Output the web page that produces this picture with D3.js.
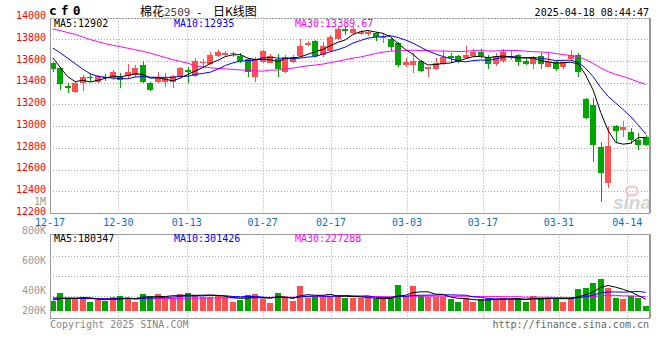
<!DOCTYPE html>
<html><head><meta charset="utf-8">
<script src="https://cdn.jsdelivr.net/npm/d3@7"></script>
<style>
body{margin:0;background:#fff}
svg{display:block}
text{font-family:"DejaVu Sans Mono",monospace;font-size:10px}
</style>
</head><body>
<svg id="c" width="660" height="360"></svg>
<script>
// ---------- DATA ----------
const dates = ["12-17","12-18","12-19","12-20","12-23","12-24","12-25","12-26","12-27","12-30","12-31",
"01-02","01-03","01-06","01-07","01-08","01-09","01-10","01-13","01-14","01-15","01-16","01-17","01-20","01-21","01-22","01-23","01-24","01-27",
"02-05","02-06","02-07","02-10","02-11","02-12","02-13","02-14","02-17","02-18","02-19","02-20","02-21","02-24","02-25","02-26","02-27","02-28",
"03-03","03-04","03-05","03-06","03-07","03-10","03-11","03-12","03-13","03-14","03-17","03-18","03-19","03-20","03-21","03-24","03-25","03-26","03-27","03-28","03-31",
"04-01","04-02","04-03","04-07","04-08","04-09","04-10","04-11","04-14","04-15","04-16","04-17"];

const openP = [13578,13539,13373,13317,13394,13450,13410,13455,13440,13450,13462,13471,13563,13394,13410,13410,13410,13450,13517,13462,
13579,13569,13646,13655,13661,13646,13615,13450,13594,13585,13615,13502,13594,13646,13748,13784,13655,13695,13800,13895,
13861,13849,13846,13861,13809,13800,13769,13563,13563,13603,13523,13526,13572,13646,13646,13625,13646,13686,13640,13569,
13600,13625,13655,13603,13572,13646,13542,13594,13542,13615,13655,13250,13194,12811,12480,13001,12960,12945,12869,12895];
const highP = [13594,13548,13394,13416,13471,13486,13471,13477,13517,13486,13569,13563,13600,13410,13502,13486,13470,13548,13548,13625,
13615,13686,13701,13695,13686,13671,13625,13634,13701,13662,13665,13655,13655,13800,13787,13794,13778,13840,13910,13916,
13910,13886,13877,13870,13849,13809,13778,13625,13671,13609,13548,13625,13701,13671,13655,13738,13708,13708,13655,13671,
13708,13701,13662,13640,13646,13671,13671,13603,13603,13701,13671,13258,13262,12850,13002,13013,13048,12983,12933,12915];
const lowP = [13502,13333,13308,13308,13327,13410,13394,13416,13425,13348,13440,13456,13394,13324,13394,13364,13348,13440,13394,13456,
13548,13563,13634,13640,13640,13585,13450,13410,13578,13578,13450,13493,13585,13634,13738,13634,13634,13686,13794,13840,
13849,13840,13830,13787,13763,13695,13542,13542,13493,13502,13450,13517,13563,13579,13585,13615,13640,13625,13526,13557,
13579,13609,13554,13563,13523,13523,13542,13511,13523,13603,13456,13066,12672,12304,12433,12857,12903,12838,12777,12820];
const closeP = [13523,13385,13348,13400,13456,13444,13462,13440,13502,13425,13502,13539,13410,13333,13440,13440,13462,13539,13502,13600,
13594,13655,13680,13677,13677,13603,13496,13615,13692,13646,13526,13640,13640,13738,13769,13646,13738,13818,13892,13880,
13895,13870,13867,13824,13818,13732,13563,13594,13600,13511,13548,13585,13640,13625,13600,13655,13680,13649,13569,13646,
13686,13646,13594,13572,13634,13572,13594,13526,13594,13655,13502,13075,12826,12571,12817,12958,12995,12872,12826,12830];
const volume = [156000,281000,182000,182000,218000,140000,167000,151000,218000,234000,203000,140000,265000,234000,265000,203000,203000,265000,281000,245000,
218000,218000,234000,207000,140000,167000,245000,265000,182000,125000,281000,218000,156000,390000,203000,234000,218000,234000,245000,203000,
203000,192000,192000,176000,176000,218000,401000,234000,385000,234000,218000,218000,218000,176000,140000,192000,140000,182000,182000,182000,
203000,182000,192000,140000,229000,192000,207000,192000,140000,218000,335000,350000,425000,500000,355000,203000,182000,234000,203000,73000];

// moving-average values before enough candles are shown
const ma5Head = [13630,13540,13455,13410];
const ma10Head = [13720,13675,13625,13575,13525,13482,13460,13450,13442];
const ma30Head = [13895,13880,13862,13845,13822,13798,13778,13760,13745,13732,13718,13703,13690,13672,13652,13632,13612,13596,13580,13556,
13545,13538,13532,13527,13522,13518,13514,13510,13506];
const vma5Head = [167000,190000,192000,192000];
const vma10Head = [195000,195000,193000,192000,190000,188000,186000,185000,185000];
const vma30Head = [200000,200000,199000,198000,197000,195000,192000,190000,188000,186000,185000,185000,186000,187000,188000,190000,191000,193000,194000,196000,
197000,198000,199000,200000,201000,202000,203000,204000,205000];

const priceTicks = [14000,13800,13600,13400,13200,13000,12800,12600,12400,12200];
const volTicks = [1000000,800000,600000,400000,200000];
const volTickLabels = ["1M","800K","600K","400K","200K"];
const dateTicks = ["12-17","12-30","01-13","01-27","02-17","03-03","03-17","03-31","04-14"];
const legendMain = ["MA5:12902","MA10:12935","MA30:13389.67"];
const legendVol = ["MA5:180347","MA10:301426","MA30:227288"];
const maColors = ["#000000","#0000ff","#ff00ff"];

// ---------- LAYOUT ----------
const L = 50, R = 650;
const pTop = 17.6, pBot = 212.9;
const vTop = 234.3, vBot = 318, vBase = 310.7;
const UP = "#ff5050", DOWN = "#00a600", GRID = "#aaaaaa", BORDER = "#999999";

const svg = d3.select("#c");
const y = d3.scaleLinear().domain([12200,14000]).range([pBot,pTop]);
const yv = d3.scaleLinear().domain([0,1200000]).range([vBase,vBase-76.9]);
const yvLabel = d3.scaleLinear().domain([400000,1000000]).range([290.7,201]);
const xb = d3.scaleBand().domain(dates).range([49,649.5]).paddingInner(0.2).paddingOuter(0.1);
const xc = d => xb(d) + xb.bandwidth()/2;
const xg = d3.scalePoint().domain(dates).range([L,R]);

function calcMA(vals,n,head){return vals.map((v,i)=> i<n-1 ? head[i] : d3.mean(vals.slice(i-n+1,i+1)));}

// ---------- GRID ----------
const g = svg.append("g");
// horizontal price grid
g.selectAll(".hg").data(priceTicks.filter(t=>t<14000 && t>12200)).join("line")
  .attr("x1",L).attr("x2",R).attr("y1",d=>Math.round(y(d))+0.5).attr("y2",d=>Math.round(y(d))+0.5)
  .attr("stroke",GRID).attr("stroke-dasharray","1,2");
// vertical grids
g.selectAll(".vg").data(dateTicks.slice(1)).join("line")
  .attr("x1",d=>Math.round(xg(d))+0.5).attr("x2",d=>Math.round(xg(d))+0.5)
  .attr("y1",pTop).attr("y2",pBot).attr("stroke",GRID).attr("stroke-dasharray","1,2");
g.selectAll(".vg2").data(dateTicks.slice(1)).join("line")
  .attr("x1",d=>Math.round(xg(d))+0.5).attr("x2",d=>Math.round(xg(d))+0.5)
  .attr("y1",vTop).attr("y2",vBot+3).attr("stroke",GRID).attr("stroke-dasharray","1,2");
// volume horizontal grid
const volGridVals = [yv.invert(255.5), yv.invert(275.5), yv.invert(295.5)];
g.selectAll(".vhg").data(volGridVals).join("line")
  .attr("x1",L).attr("x2",R).attr("y1",d=>Math.round(yv(d))+0.5).attr("y2",d=>Math.round(yv(d))+0.5)
  .attr("stroke",GRID).attr("stroke-dasharray","1,2");

// top border of price panel (dotted)
g.append("line").attr("x1",L).attr("x2",R).attr("y1",Math.round(pTop)+0.5).attr("y2",Math.round(pTop)+0.5)
  .attr("stroke",BORDER).attr("stroke-dasharray","2,1");

// ---------- SINA WATERMARK ----------
svg.append("ellipse").attr("cx",632).attr("cy",191).attr("rx",6).attr("ry",4.5)
  .attr("fill","none").attr("stroke","#f3c4c4").attr("stroke-width",2);
svg.append("text").attr("x",651).attr("y",209).attr("text-anchor","end")
  .style("font-family","Liberation Sans, Arial").style("font-size","19px").style("font-style","italic").style("font-weight","bold")
  .attr("fill","#d4d4d4").text("sina");

// ---------- CANDLES ----------
const idx = d3.range(dates.length);
const cg = svg.append("g").attr("shape-rendering","crispEdges");
cg.selectAll(".wick").data(idx).join("line")
  .attr("x1",i=>Math.round(xc(dates[i]))+0.5).attr("x2",i=>Math.round(xc(dates[i]))+0.5)
  .attr("y1",i=>y(highP[i])).attr("y2",i=>y(lowP[i]))
  .attr("stroke",i=>closeP[i]>=openP[i]?UP:DOWN);
cg.selectAll(".body").data(idx).join("rect")
  .attr("x",i=>Math.round(xb(dates[i])))
  .attr("width",Math.round(xb.bandwidth()))
  .attr("y",i=>y(Math.max(openP[i],closeP[i])))
  .attr("height",i=>Math.max(1,Math.abs(y(openP[i])-y(closeP[i]))))
  .attr("fill",i=>closeP[i]>=openP[i]?UP:DOWN);

// ---------- PRICE MA LINES ----------
const mas = [calcMA(closeP,5,ma5Head),calcMA(closeP,10,ma10Head),calcMA(closeP,30,ma30Head)];
const line = d3.line().x((d,i)=>xc(dates[i])).y(d=>y(d));
svg.append("defs").append("clipPath").attr("id","pc").append("rect").attr("x",L).attr("y",pTop).attr("width",R-L).attr("height",pBot-pTop);
const mg = svg.append("g").attr("clip-path","url(#pc)");
[2,1,0].forEach(k=>{
  mg.append("path").datum(mas[k]).attr("d",line).attr("fill","none").attr("stroke",maColors[k]).attr("stroke-width",1);
});

// ---------- VOLUME ----------
const vg = svg.append("g").attr("shape-rendering","crispEdges");
vg.selectAll("rect").data(idx).join("rect")
  .attr("x",i=>Math.round(xb(dates[i])))
  .attr("width",Math.round(xb.bandwidth()))
  .attr("y",i=>yv(volume[i]))
  .attr("height",i=>yv(0)-yv(volume[i]))
  .attr("fill",i=>closeP[i]>=openP[i]?UP:DOWN);
const vmas = [calcMA(volume,5,vma5Head),calcMA(volume,10,vma10Head),calcMA(volume,30,vma30Head)];
const vline = d3.line().x((d,i)=>xc(dates[i])).y(d=>yv(d));
[2,1,0].forEach(k=>{
  svg.append("path").datum(vmas[k]).attr("d",vline).attr("fill","none").attr("stroke",maColors[k]).attr("stroke-width",1);
});

// ---------- BORDERS ----------
const bg = svg.append("g").attr("stroke",BORDER).attr("shape-rendering","crispEdges");
bg.append("line").attr("x1",L+0.5).attr("x2",L+0.5).attr("y1",pTop).attr("y2",pBot);
bg.append("line").attr("x1",L).attr("x2",R).attr("y1",Math.round(pBot)+0.5).attr("y2",Math.round(pBot)+0.5);
bg.append("line").attr("x1",R).attr("x2",R).attr("y1",pTop).attr("y2",pBot).attr("stroke-width",2);
bg.append("line").attr("x1",L).attr("x2",R).attr("y1",Math.round(vTop)+0.5).attr("y2",Math.round(vTop)+0.5);
bg.append("line").attr("x1",L+0.5).attr("x2",L+0.5).attr("y1",vTop).attr("y2",vBot);
bg.append("line").attr("x1",L).attr("x2",R).attr("y1",vBot+0.5).attr("y2",vBot+0.5);
bg.append("line").attr("x1",R).attr("x2",R).attr("y1",vTop).attr("y2",vBot).attr("stroke-width",2);

// ---------- AXIS LABELS ----------
svg.selectAll(".pl").data(priceTicks).join("text")
  .attr("x",46).attr("y",d=>y(d)-1.8).attr("dy","0.35em").attr("text-anchor","end")
  .attr("fill","#ff0000").text(d=>d);
svg.selectAll(".vl").data(volTicks).join("text")
  .attr("x",46).attr("y",d=>Math.min(yvLabel(d),vBase)).attr("dy","0.35em").attr("text-anchor","end")
  .attr("fill","#999999").text((d,i)=>volTickLabels[i]);
svg.selectAll(".xl").data(dateTicks).join("text")
  .attr("x",d=>xg(d)).attr("y",222).attr("dy","0.35em").attr("text-anchor","middle")
  .attr("fill","#0a6ec8").text(d=>d);

// ---------- LEGENDS ----------
const legX = [54,174,295];
legendMain.forEach((t,i)=>svg.append("text").attr("x",legX[i]).attr("y",23.5).attr("dy","0.35em").attr("fill",maColors[i]).text(t));
legendVol.forEach((t,i)=>svg.append("text").attr("x",legX[i]).attr("y",238.5).attr("dy","0.35em").attr("fill",maColors[i]).text(t));

// ---------- HEADER / FOOTER ----------
svg.append("text").attr("x",49).attr("y",15).style("font-size","13px").style("font-weight","bold")
  .style("letter-spacing","4px").attr("fill","#000").text("cf0");
const tt = svg.append("text").attr("y",16).attr("fill","#000");
tt.append("tspan").attr("x",140).style("font-family","Noto Sans CJK SC").style("font-size","12px").text("棉花");
tt.append("tspan").attr("x",164).style("font-size","11px").attr("fill","#444").text("2509");
tt.append("tspan").attr("x",196).style("font-size","11px").text("-");
tt.append("tspan").attr("x",213).style("font-family","Noto Sans CJK SC").style("font-size","12px").text("日K线图");
svg.append("text").attr("x",649).attr("y",12.5).attr("dy","0.35em").attr("text-anchor","end").attr("fill","#000").text("2025-04-18 08:44:47");
svg.append("text").attr("x",50).attr("y",324).attr("dy","0.35em").attr("fill","#888").text("Copyright 2025 SINA.COM");
svg.append("text").attr("x",649).attr("y",324).attr("dy","0.35em").attr("text-anchor","end").attr("fill","#666").text("http://finance.sina.com.cn");
</script>
</body></html>
